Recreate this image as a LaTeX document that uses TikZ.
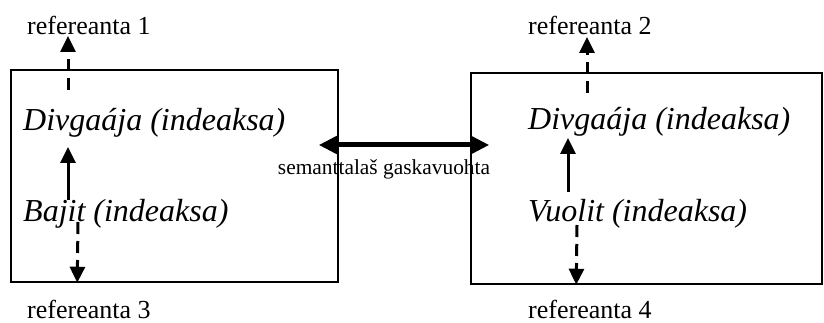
\documentclass[tikz,border=0pt]{standalone}
\usepackage{fontspec}
\setmainfont{Liberation Serif}
\usetikzlibrary{arrows.meta,positioning}

\tikzset{
  frame/.style={draw,line width=1.5pt,inner sep=0pt},
  refname/.style={inner sep=0pt,font=\fontsize{26}{30}\selectfont},
  term/.style={inner sep=0pt,font=\fontsize{32}{38}\selectfont\itshape},
  relname/.style={inner sep=0pt,font=\fontsize{21.4}{25}\selectfont},
  dasharrow/.style={line width=3pt,dash pattern=on 12pt off 7pt,-{Triangle[length=16pt,width=15pt]}},
  fullarrow/.style={line width=3pt,-{Triangle[length=16pt,width=15pt]}},
  bigarrow/.style={line width=5pt,{Triangle[length=18pt,width=17pt]}-{Triangle[length=18pt,width=17pt]}}
}

\begin{document}
\begin{tikzpicture}[x=1pt,y=-1pt]
			\useasboundingbox (0,0) rectangle (824,323);

			\node[frame,minimum width=327pt,minimum height=212pt] (leftbox) at (174.5,176) {};
			\node[frame,minimum width=351pt,minimum height=211pt] (rightbox) at (646.5,178.5) {};

			\node[refname,anchor=base west] (ref1) at (27,35) {refereanta 1};
			\node[refname,anchor=base west] (ref3) at (27,318) {refereanta 3};
			\node[refname,anchor=base west] (ref2) at (528,35) {refereanta 2};
			\node[refname,anchor=base west] (ref4) at (528,318) {refereanta 4};

			\node[term,anchor=base west] (divL) at (23,131) {Divgaája (indeaksa)};
			\node[term,anchor=base west] (bajL) at (23,222) {Bajit (indeaksa)};
			\node[term,anchor=base west] (divR) at (528,130) {Divgaája (indeaksa)};
			\node[term,anchor=base west] (vuoR) at (528,222) {Vuolit (indeaksa)};

			\node[relname,anchor=base] (rel) at (384,175) {semanttalaš gaskavuohta};

			% left side
			\draw[dasharrow] ([xshift=45pt,yshift=41pt]divL.base west) -- ([xshift=41pt,yshift=-1pt]ref1.base west);
			\draw[fullarrow] ([xshift=45pt,yshift=22pt]bajL.base west) -- ([xshift=45pt,yshift=-16pt]divL.base west);
			\draw[dasharrow] ([xshift=55pt]bajL.base west) -- ([xshift=67pt]leftbox.south west);

			% right side
			\draw[dasharrow] ([xshift=59pt,yshift=37pt]divR.base west) -- ([xshift=59pt,yshift=-2pt]ref2.base west);
			\draw[fullarrow] ([xshift=40pt,yshift=30pt]vuoR.base west) -- ([xshift=40pt,yshift=-8pt]divR.base west);
			\draw[dasharrow] ([xshift=49pt,yshift=-3pt]vuoR.base west) -- ([xshift=106pt]rightbox.south west);

			\draw[bigarrow] ([xshift=-20pt,yshift=31pt]leftbox.east) -- ([xshift=19pt,yshift=33.5pt]rightbox.west);
		\end{tikzpicture}
\end{document}
